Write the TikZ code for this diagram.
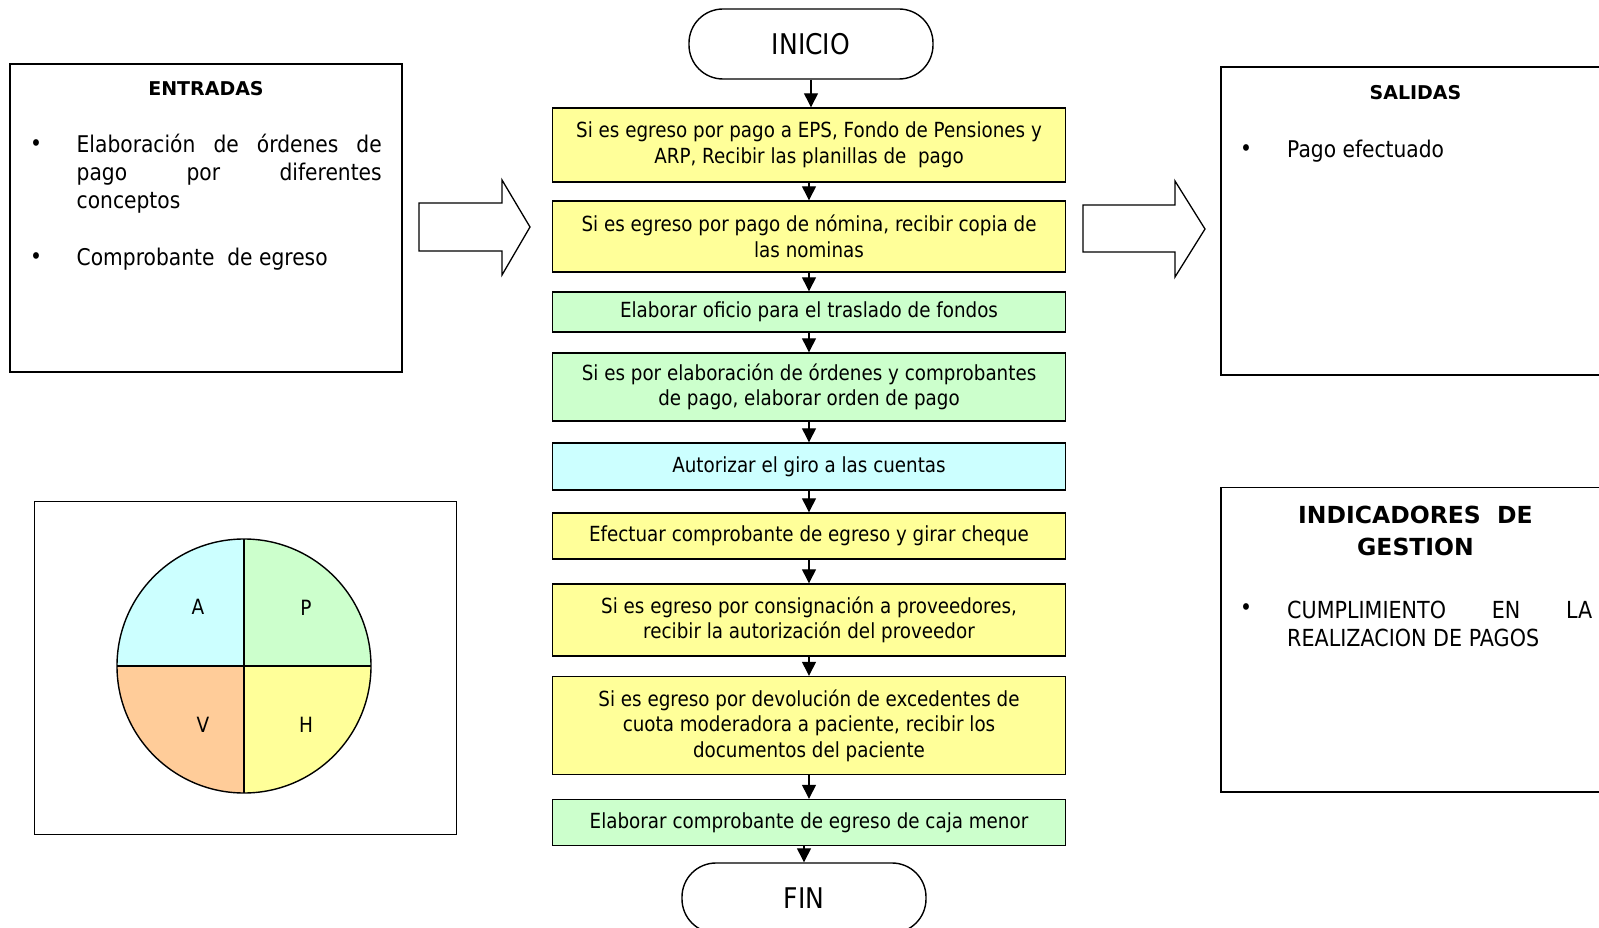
\documentclass[tikz,border=0pt]{standalone}
\usepackage{fontspec}
\setmainfont{DejaVu Sans}[FakeStretch=0.88, BoldFeatures={FakeStretch=1.0}]
\usepackage{tikz}
\usetikzlibrary{arrows.meta,positioning,calc}

\definecolor{amarillo}{HTML}{FFFF99}
\definecolor{verde}{HTML}{CCFFCC}
\definecolor{celeste}{HTML}{CCFFFF}
\definecolor{naranja}{HTML}{FFCC99}

\begin{document}
\begin{tikzpicture}[x=1pt, y=-1pt,
    paso/.style={draw, line width=1.4pt, minimum width=513pt, inner sep=0pt, align=center, font=\fontsize{20.8}{25.5}\selectfont},
    terminal/.style={draw, line width=1.4pt, rounded corners=34pt, minimum width=244pt, minimum height=70pt, font=\fontsize{28.5}{32}\selectfont},
    flecha/.style={-{Triangle[length=14pt,width=14pt]}, line width=1.3pt},
    marco/.style={draw, line width=1.4pt},
    lista/.style={anchor=west, align=left, inner sep=0pt, font=\fontsize{23}{28}\selectfont},
    titulo/.style={inner sep=0pt, align=center, font=\bfseries\fontsize{19}{22}\selectfont}]
    \useasboundingbox (0,0) rectangle (1599,928);

    % Flow steps
    \node[terminal] (inicio) at (811,44) {INICIO};
    \node[paso, fill=amarillo, minimum height=74pt] (p1) at (809,145) {Si es egreso por pago a EPS, Fondo de Pensiones y\\ARP, Recibir las planillas de\ \ pago};
    \node[paso, fill=amarillo, minimum height=71pt] (p2) at (809,236.5) {Si es egreso por pago de nómina, recibir copia de\\las nominas};
    \node[paso, fill=verde, minimum height=40pt] (p3) at (809,312) {Elaborar oficio para el traslado de fondos};
    \node[paso, fill=verde, minimum height=68pt] (p4) at (809,387) {Si es por elaboración de órdenes y comprobantes\\de pago, elaborar orden de pago};
    \node[paso, fill=celeste, minimum height=47pt] (p5) at (809,466.5) {Autorizar el giro a las cuentas};
    \node[paso, fill=amarillo, minimum height=46pt] (p6) at (809,536) {Efectuar comprobante de egreso y girar cheque};
    \node[paso, fill=amarillo, minimum height=72pt] (p7) at (809,620) {Si es egreso por consignación a proveedores,\\recibir la autorización del proveedor};
    \node[paso, fill=amarillo, minimum height=98pt] (p8) at (809,725.5) {Si es egreso por devolución de excedentes de\\cuota moderadora a paciente, recibir los\\documentos del paciente};
    \node[paso, fill=verde, minimum height=46pt] (p9) at (809,822.5) {Elaborar comprobante de egreso de caja menor};
    \node[terminal] (fin) at (804,898) {FIN};

    \foreach \a/\b in {inicio/p1, p1/p2, p2/p3, p3/p4, p4/p5, p5/p6, p6/p7, p7/p8, p8/p9}
        \draw[flecha] (\a.south) -- (\a.south |- \b.north);
    \draw[flecha] (p9.south -| fin.north) -- (fin.north);

    % Block arrows
    \draw[line width=1.3pt] (419,203) -- (502,203) -- (502,180) -- (530,227) -- (502,275) -- (502,251) -- (419,251) -- cycle;
    \draw[line width=1.3pt] (1083,205) -- (1175,205) -- (1175,181) -- (1205,229) -- (1175,277) -- (1175,252) -- (1083,252) -- cycle;

    % Entradas
    \draw[marco] (10,64) rectangle (402,372);
    \node[titulo] (entradas) at (206,89) {ENTRADAS};
    \node[lista] (bala1) at (30,146) {•};
    \node[lista] (ent1) at (76.5,174) {\makebox[305pt][s]{Elaboración de órdenes de}\\\makebox[305pt][s]{pago por diferentes}\\conceptos};
    \node[lista] (bala2) at (30,259) {•};
    \node[lista] (ent2) at (76.5,259) {Comprobante\ \ de egreso};

    % Salidas
    \draw[marco] (1221,67) rectangle (1640,375);
    \node[titulo] (salidas) at (1415.5,93) {SALIDAS};
    \node[lista] (bala3) at (1240,151) {•};
    \node[lista] (sal1) at (1287,151) {Pago efectuado};

    % Indicadores
    \draw[marco] (1221,487.5) rectangle (1640,792);
    \node[titulo, font=\bfseries\fontsize{23.5}{31.5}\selectfont] (indicadores) at (1415.5,531) {INDICADORES\ \ DE\\GESTION};
    \node[lista] (bala4) at (1240,610) {•};
    \node[lista, font=\fontsize{23.5}{28.5}\selectfont] (ind1) at (1287,624) {\makebox[305pt][s]{CUMPLIMIENTO EN LA}\\REALIZACION DE PAGOS};

    % PHVA circle
    \draw[line width=1pt] (34,501) rectangle (456,834);
    \coordinate (c) at (244,666);
    \fill[celeste] (c) -- +(180:127) arc[start angle=180, end angle=270, radius=127] -- cycle;
    \fill[verde] (c) -- +(270:127) arc[start angle=270, end angle=360, radius=127] -- cycle;
    \fill[amarillo] (c) -- +(0:127) arc[start angle=0, end angle=90, radius=127] -- cycle;
    \fill[naranja] (c) -- +(90:127) arc[start angle=90, end angle=180, radius=127] -- cycle;
    \draw[line width=1.4pt] (c) circle[radius=127];
    \draw[line width=1.4pt] ($(c)+(-127,0)$) -- ($(c)+(127,0)$);
    \draw[line width=1.4pt] ($(c)+(0,-127)$) -- ($(c)+(0,127)$);
    \node[font=\fontsize{21}{24}\selectfont] (A) at (198,607) {A};
    \node[font=\fontsize{21}{24}\selectfont] (P) at (306,608) {P};
    \node[font=\fontsize{21}{24}\selectfont] (V) at (203,725) {V};
    \node[font=\fontsize{21}{24}\selectfont] (H) at (306,725) {H};
\end{tikzpicture}
\end{document}
